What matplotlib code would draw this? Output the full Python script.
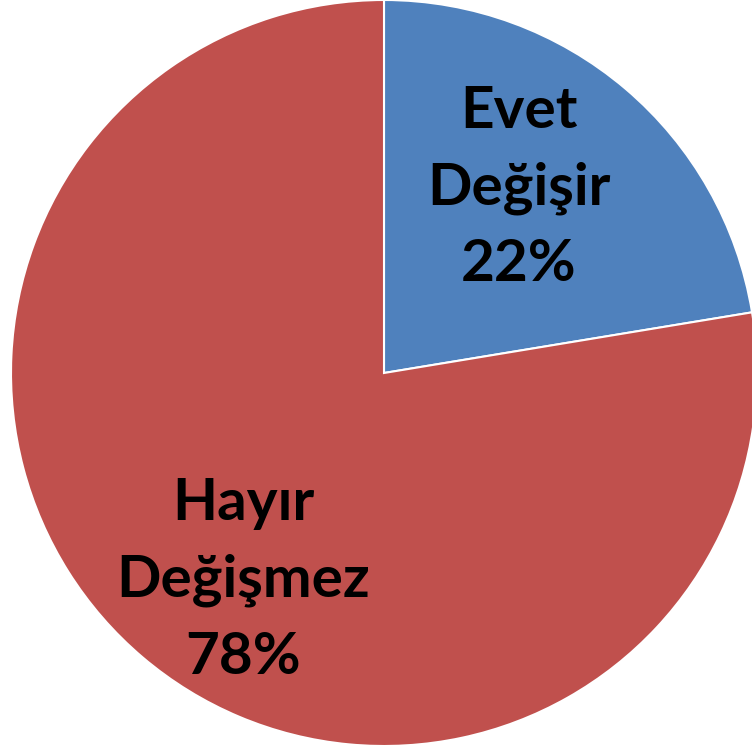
import matplotlib
matplotlib.use("Agg")
import matplotlib.pyplot as plt
import numpy as np

labels = ["Evet\nDeğişir", "Hayır\nDeğişmez"]
values = [22.4, 77.6]
pct_labels = ["22%", "78%"]
colors = ["#4F81BD", "#C0504D"]

W, H = 752, 748
fig = plt.figure(figsize=(W / 100, H / 100), dpi=100)
ax = fig.add_axes([0, 0, 1, 1])

cx, cy, r = 384, 375, 373
wedges, _ = ax.pie(values, colors=colors, startangle=90, counterclock=False,
                   center=(cx, cy), radius=r, frame=True,
                   wedgeprops=dict(edgecolor="white", linewidth=1.5))
ax.set_xlim(0, W)
ax.set_ylim(0, H)
ax.set_aspect("equal")
ax.axis("off")

dists = [0.613, 0.672]
ang_off = [4.3, 6.2]
for w, lab, p, d, o in zip(wedges, labels, pct_labels, dists, ang_off):
    ang = np.deg2rad((w.theta1 + w.theta2) / 2 + o)
    x = cx + d * r * np.cos(ang)
    y = cy + d * r * np.sin(ang)
    ax.text(x, y, f"{lab}\n{p}", ha="center", va="center",
            fontsize=42, fontweight="bold", family="Lato", linespacing=1.55,
            color="black")

fig.savefig("out.png", dpi=100)
